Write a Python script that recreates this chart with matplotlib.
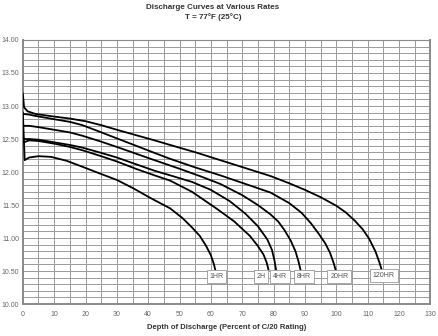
import matplotlib.pyplot as plt
from matplotlib.ticker import MultipleLocator

plt.rcParams['font.family'] = ['Liberation Sans', 'DejaVu Sans']

# depth of discharge (%) and voltage, one pair per rate
d_120 = [0, 0.4, 1.5, 4, 10, 15, 20, 25, 30, 36, 42, 47, 55, 63, 71, 79, 85, 90, 95, 100, 103, 106, 108.5, 110.5, 112.5, 113.8, 114.5]
v_120 = [13.19, 12.98, 12.92, 12.88, 12.84, 12.81, 12.77, 12.71, 12.64, 12.56, 12.48, 12.41, 12.30, 12.18, 12.06, 11.94, 11.83, 11.73, 11.62, 11.49, 11.39, 11.26, 11.13, 10.99, 10.80, 10.63, 10.52]

d_20 = [0, 2, 4, 10, 15, 19, 24, 30, 36, 42, 47, 55, 63, 71, 79, 85, 89, 92, 94.5, 96.5, 98, 99.2, 99.8]
v_20 = [12.88, 12.87, 12.85, 12.80, 12.76, 12.71, 12.62, 12.51, 12.40, 12.29, 12.20, 12.07, 11.95, 11.82, 11.69, 11.53, 11.38, 11.22, 11.06, 10.92, 10.78, 10.62, 10.52]

d_8 = [0, 2, 5, 10, 15, 19, 25, 30, 36, 42, 50, 57, 63, 70, 75, 79, 81.5, 83.5, 85.5, 87, 88, 88.6]
v_8 = [12.70, 12.70, 12.68, 12.64, 12.60, 12.55, 12.46, 12.38, 12.28, 12.18, 12.05, 11.93, 11.82, 11.65, 11.50, 11.36, 11.25, 11.12, 10.96, 10.80, 10.64, 10.52]

d_4 = [0, 2, 5, 10, 15, 19, 25, 30, 36, 42, 47, 54, 60, 66, 71, 75, 78, 79.5, 80.3, 80.8]
v_4 = [12.50, 12.50, 12.49, 12.45, 12.41, 12.37, 12.29, 12.22, 12.12, 12.02, 11.95, 11.85, 11.73, 11.56, 11.37, 11.18, 10.98, 10.82, 10.66, 10.52]

d_2 = [0, 0.3, 2, 5, 10, 15, 19, 25, 30, 36, 42, 47, 54, 62, 67.5, 72.5, 75, 76.8, 77.8, 78.4]
v_2 = [12.47, 12.45, 12.48, 12.47, 12.43, 12.38, 12.33, 12.24, 12.16, 12.05, 11.95, 11.87, 11.70, 11.44, 11.25, 11.03, 10.88, 10.75, 10.63, 10.52]

d_1 = [0, 0.6, 2, 5, 9, 14, 19, 25, 30, 35, 41, 47, 51, 54, 56.5, 58.5, 60, 61, 61.4]
v_1 = [12.90, 12.18, 12.22, 12.24, 12.23, 12.17, 12.08, 11.97, 11.88, 11.76, 11.60, 11.45, 11.30, 11.16, 11.03, 10.88, 10.74, 10.60, 10.52]

labels = ['1HR', '2H', '4HR', '8HR', '20HR', '120HR']
label_x = [61.8, 76.0, 82.1, 89.7, 101.0, 115.2]
label_y = [10.42, 10.42, 10.42, 10.42, 10.42, 10.43]

fig = plt.figure(figsize=(4.39, 3.36), dpi=100)
ax = fig.add_axes([0.052, 0.095, 0.928, 0.786])

for d, v in [(d_120, v_120), (d_20, v_20), (d_8, v_8), (d_4, v_4), (d_2, v_2), (d_1, v_1)]:
    ax.plot(d, v, color='black', lw=1.3, zorder=3)

for t, x, y in zip(labels, label_x, label_y):
    ax.text(x, y, t, fontsize=5, color='#555555', ha='center', va='center', zorder=4,
            bbox=dict(boxstyle='square,pad=0.4', fc='white', ec='#999999', lw=0.6))

ax.set_xlim(0, 130)
ax.set_ylim(10, 14)
ax.xaxis.set_major_locator(MultipleLocator(10))
ax.xaxis.set_minor_locator(MultipleLocator(5))
ax.yaxis.set_major_locator(MultipleLocator(0.5))
ax.yaxis.set_minor_locator(MultipleLocator(0.1))
ax.yaxis.set_major_formatter(plt.FormatStrFormatter('%.2f'))
ax.grid(which='both', color='#9a9a9a', lw=0.7)
ax.set_axisbelow(True)
ax.tick_params(which='both', length=0, labelsize=5, colors='#666666')
ax.tick_params(axis='y', pad=2.5)
ax.tick_params(axis='x', pad=5)

for s in ax.spines.values():
    s.set_color('#8a8a8a')
    s.set_linewidth(1.4)
ax.spines['top'].set_linewidth(0.8)

ax.set_xlabel('Depth of Discharge (Percent of C/20 Rating)', fontsize=5.5, color='#333333',
              fontweight='bold', labelpad=4)
fig.text(0.485, 0.978, 'Discharge Curves at Various Rates', fontsize=5.8, color='#333333',
         fontweight='bold', ha='center', va='center')
fig.text(0.485, 0.950, 'T = 77°F (25°C)', fontsize=5.8, color='#333333',
         fontweight='bold', ha='center', va='center')

fig.savefig('out.png', dpi=100)
